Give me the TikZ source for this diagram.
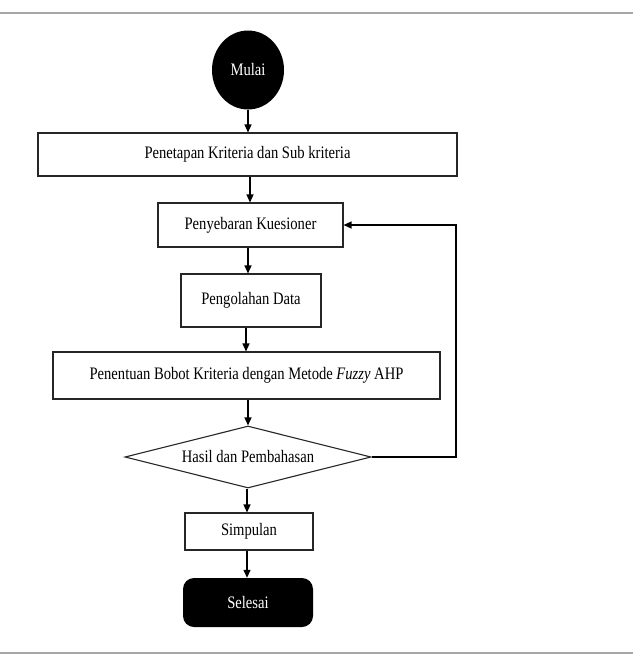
\documentclass[tikz,border=0pt]{standalone}
\usepackage{fontspec}
\usepackage{graphicx}
\setmainfont{Liberation Serif}
\usetikzlibrary{shapes.geometric,arrows.meta}
\newcommand\tallt[1]{\scalebox{1}[1.2]{#1}}
\begin{document}
\begin{tikzpicture}[x=1pt,y=1pt,
  font=\fontsize{14.6}{16}\selectfont,
  proc/.style={draw=black!85,line width=1.1pt,inner sep=0pt,fill=white},
  term/.style={fill=black,text=white,inner sep=0pt},
  arr/.style={line width=1.3pt,-{Triangle[length=8pt,width=7pt]}},
  rule/.style={draw=black!35,line width=1.5pt}]
\useasboundingbox (0,0) rectangle (633,-656);
\coordinate (tl) at (0,-13); \coordinate (tr) at (633,-13);
\coordinate (bl) at (0,-653); \coordinate (br) at (633,-653);
\draw[rule] (tl) -- (tr);
\draw[rule] (bl) -- (br);
\node[term,ellipse,minimum width=72pt,minimum height=79pt] (start) at (248,-70) {\tallt{Mulai}};
\node[proc,minimum width=419pt,minimum height=43pt] (b1) at (247.5,-154.5) {\tallt{Penetapan Kriteria dan Sub kriteria}};
\node[proc,minimum width=185pt,minimum height=44pt] (b2) at (250.5,-225) {\tallt{Penyebaran Kuesioner}};
\node[proc,minimum width=140pt,minimum height=53pt] (b3) at (251,-300.5) {\tallt{Pengolahan Data}};
\node[proc,minimum width=387pt,minimum height=47pt] (b4) at (246.5,-375.5) {\tallt{Penentuan Bobot Kriteria dengan Metode \textit{Fuzzy} AHP}};
\node[proc,diamond,aspect=3.97,minimum width=246pt,minimum height=62pt] (d) at (248,-457) {\tallt{Hasil dan Pembahasan}};
\node[proc,minimum width=128pt,minimum height=37pt] (b5) at (249,-531.5) {\tallt{Simpulan}};
\node[term,rounded corners=11pt,minimum width=130pt,minimum height=49pt] (end) at (248,-602.5) {\tallt{Selesai}};
\coordinate (fb1) at (456,-457);
\coordinate (fb2) at (456,-225);
\draw[arr] (start.south) -- (start.south |- b1.north);
\draw[arr] ([xshift=2.5pt]b1.south) -- ([xshift=2.5pt]b1.south |- b2.north);
\draw[arr] ([xshift=-2.5pt]b2.south) -- ([xshift=-2.5pt]b2.south |- b3.north);
\draw[arr] ([xshift=-5pt]b3.south) -- ([xshift=-5pt]b3.south |- b4.north);
\draw[arr] ([xshift=1.5pt]b4.south) -- ([xshift=1.5pt]b4.south |- d.north);
\draw[arr] ([xshift=-1pt]d.south) -- ([xshift=-1pt]d.south |- b5.north);
\draw[arr] ([xshift=-2pt]b5.south) -- ([xshift=-2pt]b5.south |- end.north);
\draw[arr] (d.east) -- (fb1) -- (fb2) -- (b2.east);
\end{tikzpicture}
\end{document}
